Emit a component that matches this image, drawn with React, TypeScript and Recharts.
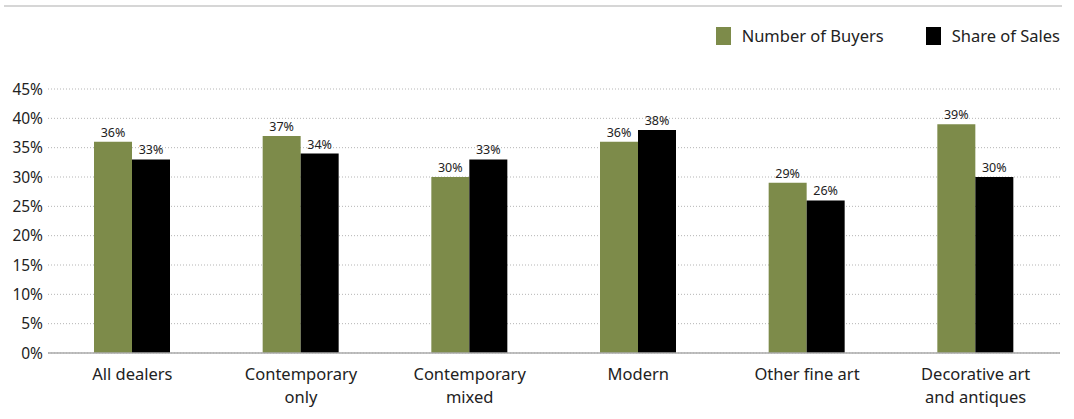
import { BarChart, Bar, XAxis, YAxis, CartesianGrid } from "recharts";

const categories = [
  "All dealers",
  "Contemporary\nonly",
  "Contemporary\nmixed",
  "Modern",
  "Other fine art",
  "Decorative art\nand antiques",
];
const buyers = [36, 37, 30, 36, 29, 39];
const sales = [33, 34, 33, 38, 26, 30];
const yTicks = [0, 5, 10, 15, 20, 25, 30, 35, 40, 45];

const data = categories.map((name, i) => ({ name, buyers: buyers[i], sales: sales[i] }));

const FONT = "'Noto Sans', sans-serif";
const GREEN = "#7d8b4a";

function CategoryTick(props: any) {
  const { x, y, payload } = props;
  const lines = String(payload.value).split("\n");
  return (
    <text x={x} y={y} textAnchor="middle" fill="#222" fontSize={16.5} fontFamily={FONT}>
      {lines.map((l, i) => (
        <tspan key={i} x={x} dy={i === 0 ? 19 : 23}>
          {l}
        </tspan>
      ))}
    </text>
  );
}

function LegendBox() {
  const items = [
    { label: "Number of Buyers", color: GREEN },
    { label: "Share of Sales", color: "#000" },
  ];
  return (
    <div
      style={{
        position: "absolute",
        right: 14,
        top: 27,
        display: "flex",
        fontFamily: FONT,
        fontSize: 16.5,
        color: "#222",
        lineHeight: "18px",
      }}
    >
      {items.map((it, i) => (
        <div key={it.label} style={{ display: "flex", alignItems: "center", marginLeft: i === 0 ? 0 : 42 }}>
          <span style={{ width: 15, height: 18, background: it.color, marginRight: 11 }} />
          {it.label}
        </div>
      ))}
    </div>
  );
}

export default function App() {
  return (
    <div style={{ position: "absolute", left: 0, top: 0, width: 1074, height: 419, background: "#fff" }}>
      <div style={{ position: "absolute", left: 4, top: 5, width: 1058, height: 2, background: "#d6d6d6" }} />
      <LegendBox />
      <BarChart
        width={1074}
        height={419}
        data={data}
        margin={{ top: 89, right: 14, left: 0, bottom: 36 }}
        barGap={0}
      >
        <CartesianGrid vertical={false} stroke="#b5b5b5" strokeDasharray="1 2" />
        <XAxis
          dataKey="name"
          interval={0}
          tickLine={false}
          axisLine={{ stroke: "#aaa", strokeWidth: 1.5 }}
          tick={<CategoryTick />}
        />
        <YAxis
          width={48}
          domain={[0, 45]}
          ticks={yTicks}
          tickFormatter={(v) => `${v}%`}
          axisLine={false}
          tickLine={false}
          tickSize={0}
          tickMargin={5}
          tick={{ fill: "#222", fontSize: 15.5, fontFamily: FONT }}
        />
        <Bar
          dataKey="buyers"
          fill={GREEN}
          barSize={38}
          isAnimationActive={false}
          label={{ position: "top", fill: "#222", fontSize: 12.5, fontFamily: FONT, formatter: (v: any) => `${v}%` }}
        />
        <Bar
          dataKey="sales"
          fill="#000"
          barSize={38}
          isAnimationActive={false}
          label={{ position: "top", fill: "#222", fontSize: 12.5, fontFamily: FONT, formatter: (v: any) => `${v}%` }}
        />
      </BarChart>
    </div>
  );
}
